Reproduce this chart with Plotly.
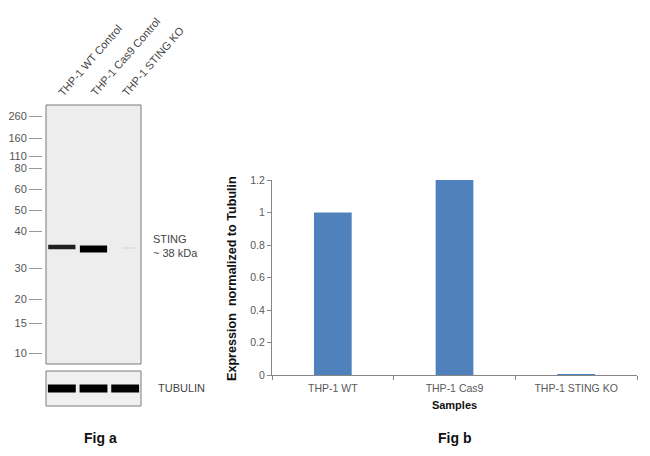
import plotly.graph_objects as go

W, H = 650, 456
def px(x): return x / W
def py(y): return 1 - y / H

FONT = "Liberation Sans, Arial, sans-serif"

# ---- Fig a data (western blot) ----
lanes = ["THP-1 WT Control", "THP-1 Cas9 Control", "THP-1 STING KO"]
marker_kda = [260, 160, 110, 80, 60, 50, 40, 30, 20, 15, 10]
marker_migration = [11, 33, 51, 63, 84, 105, 126, 163, 194, 218, 248]
sting_band_migration = [142, 144, 143]
sting_band_intensity = [0.86, 1.0, 0.07]
tubulin_band_intensity = [1.0, 1.0, 0.98]

# ---- Fig b data (bar chart) ----
samples = ["THP-1 WT", "THP-1 Cas9", "THP-1 STING KO"]
expression = [1.0, 1.2, 0.006]

fig = go.Figure()

# Bar chart
fig.add_trace(go.Bar(x=samples, y=expression, marker_color="#4F81BD",
                     marker_line_width=0, xaxis="x", yaxis="y", showlegend=False))

def grey(i):
    v = int(235 * (1 - i))
    return f"rgb({v},{v},{v})"

# STING bands
for k, (m, inten) in enumerate(zip(sting_band_migration, sting_band_intensity)):
    lane = k + 1
    half = 0.43 if inten > 0.5 else 0.2
    off = 0.0 if inten > 0.5 else 0.1
    fig.add_trace(go.Scatter(x=[lane - half + off, lane + half + off], y=[m, m], mode="lines",
                             line=dict(color=grey(inten), width=1.5 + 5.5 * inten ** 4),
                             xaxis="x2", yaxis="y2", showlegend=False, hoverinfo="skip"))

# Tubulin bands
for k, inten in enumerate(tubulin_band_intensity):
    lane = k + 1
    fig.add_trace(go.Scatter(x=[lane - 0.44, lane + 0.44], y=[0.5, 0.5], mode="lines",
                             line=dict(color=grey(inten), width=8),
                             xaxis="x3", yaxis="y3", showlegend=False, hoverinfo="skip"))

shapes = [
    dict(type="rect", xref="x2 domain", yref="y2 domain", x0=0, x1=1, y0=0, y1=1,
         fillcolor="#ededed", line=dict(color="#7a7a7a", width=1), layer="below"),
    dict(type="rect", xref="x3 domain", yref="y3 domain", x0=0, x1=1, y0=0, y1=1,
         fillcolor="#f0f0f0", line=dict(color="#7a7a7a", width=1), layer="below"),
]

annotations = []
for k, name in enumerate(lanes):
    annotations.append(dict(text=name, x=k + 1 - 0.26, xref="x2", y=py(101), yref="paper",
                            xanchor="left", yanchor="bottom", textangle=-49, showarrow=False,
                            font=dict(family=FONT, size=11, color="#444444")))
annotations += [
    dict(text="STING<br>~ 38 kDa", x=px(151), y=py(246), xref="paper", yref="paper",
         xanchor="left", yanchor="middle", align="left", showarrow=False,
         font=dict(family=FONT, size=11, color="#444444")),
    dict(text="TUBULIN", x=px(156), y=py(388), xref="paper", yref="paper",
         xanchor="left", yanchor="middle", showarrow=False,
         font=dict(family=FONT, size=11, color="#444444")),
    dict(text="<b>Fig a</b>", x=px(100), y=py(438), xref="paper", yref="paper",
         xanchor="center", yanchor="middle", showarrow=False,
         font=dict(family=FONT, size=14, color="#111111")),
    dict(text="<b>Fig b</b>", x=px(455), y=py(438), xref="paper", yref="paper",
         xanchor="center", yanchor="middle", showarrow=False,
         font=dict(family=FONT, size=14, color="#111111")),
    dict(text="<b>Expression  normalized to Tubulin</b>", x=px(232), y=py(278),
         xref="paper", yref="paper", xanchor="center", yanchor="middle", textangle=-90,
         showarrow=False, font=dict(family=FONT, size=12.6, color="#111111")),
]

fig.update_layout(
    width=W, height=H, margin=dict(l=0, r=0, t=0, b=0, pad=0, autoexpand=False),
    paper_bgcolor="white", plot_bgcolor="white",
    font=dict(family=FONT, size=11, color="#595959"),
    bargap=0.69,
    xaxis=dict(domain=[px(272), px(637)], anchor="y", type="category", automargin=False,
               showline=True, linecolor="#868686", linewidth=1,
               ticks="outside", tickson="boundaries", ticklen=4, tickcolor="#868686",
               ticklabelstandoff=3,
               tickfont=dict(family=FONT, size=10.5, color="#595959"),
               title=dict(text="<b>Samples</b>", standoff=8,
                          font=dict(family=FONT, size=11, color="#111111")),
               showgrid=False, zeroline=False),
    yaxis=dict(domain=[py(375), py(180)], anchor="x", range=[0, 1.2], dtick=0.2,
               automargin=False,
               showline=True, linecolor="#868686", linewidth=1,
               ticks="outside", ticklen=4, tickcolor="#868686",
               tickfont=dict(family=FONT, size=10.5, color="#595959"),
               showgrid=False, zeroline=False),
    xaxis2=dict(domain=[px(46), px(141)], anchor="y2", range=[0.5, 3.5], automargin=False,
                showline=False, showticklabels=False, ticks="", showgrid=False, zeroline=False),
    yaxis2=dict(domain=[py(364), py(105)], anchor="free", position=px(42), automargin=False,
                range=[259, 0], tickmode="array", tickvals=marker_migration,
                ticktext=[str(v) for v in marker_kda], ticks="outside", ticklen=13,
                tickcolor="#9a9a9a", tickwidth=1,
                tickfont=dict(family=FONT, size=11, color="#555555"),
                showline=False, showgrid=False, zeroline=False),
    xaxis3=dict(domain=[px(46), px(141)], anchor="y3", range=[0.5, 3.5], automargin=False,
                showline=False, showticklabels=False, ticks="", showgrid=False, zeroline=False),
    yaxis3=dict(domain=[py(406), py(371)], anchor="x3", range=[0, 1], automargin=False,
                showline=False, showticklabels=False, ticks="", showgrid=False, zeroline=False),
    shapes=shapes, annotations=annotations,
)

fig.write_html("out.html", config={"displayModeBar": False},
               post_script="document.body.style.margin='0';document.body.style.padding='0';")
